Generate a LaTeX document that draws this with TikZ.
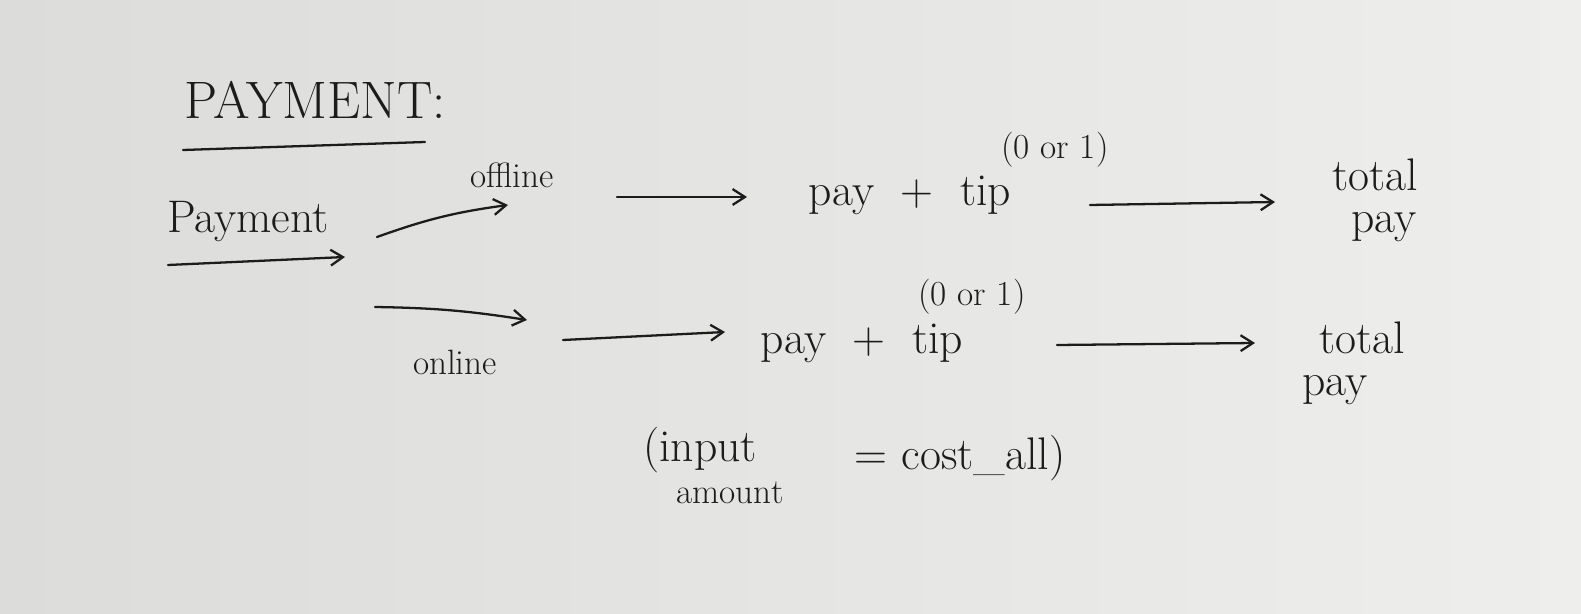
\documentclass[tikz,border=0pt]{standalone}
\usetikzlibrary{arrows.meta}
\definecolor{ink}{HTML}{1C1C1C}
\definecolor{paperL}{HTML}{DCDDDA}
\definecolor{paperR}{HTML}{EEEFED}
\begin{document}
\begin{tikzpicture}[x=0.02cm,y=-0.02cm,
  txt/.style={text=ink,inner sep=0pt,font=\fontsize{26}{28}\selectfont},
  small/.style={text=ink,inner sep=0pt,font=\fontsize{20}{22}\selectfont},
  big/.style={text=ink,inner sep=0pt,font=\fontsize{30}{32}\selectfont},
  arr/.style={draw=ink,line width=1.3pt,line cap=round,-{Straight Barb[length=7pt,width=9pt,line width=1.3pt]}},
  ln/.style={draw=ink,line width=1.3pt,line cap=round}]
\shade[left color=paperL,right color=paperR] (0,0) rectangle (1581,614);
\useasboundingbox (0,0) rectangle (1581,614);
% title
\node[big] (title) at (315,100) {PAYMENT:};
\coordinate (ulA) at (183,150);
\coordinate (ulB) at (425,142);
\draw[ln] (ulA) -- (ulB);
% payment
\node[txt] (pay) at (248,222) {Payment};
\coordinate (pa1) at (168,265);
\coordinate (pa2) at (345,257);
\draw[arr] (pa1) -- (pa2);
% offline branch
\coordinate (of1) at (377,237);
\coordinate (of2) at (508,205);
\draw[arr] (of1) to[bend left=6] (of2);
\node[small] (offline) at (512,175) {offline};
% online branch
\coordinate (on1) at (375,307);
\coordinate (on2) at (527,320);
\draw[arr] (on1) to[bend left=4] (on2);
\node[small] (online) at (455,362) {online};
% top row
\coordinate (t1) at (617,197);
\coordinate (t2) at (747,197);
\draw[arr] (t1) -- (t2);
\node[txt] (pt1) at (910,195) {pay \;+\; tip};
\node[small] (ot1) at (1055,150) {(0 or 1)};
\coordinate (t3) at (1090,205);
\coordinate (t4) at (1275,202);
\draw[arr] (t3) -- (t4);
\node[txt,align=center] (tot1) at (1375,200) {total\\[-4pt]\hspace*{0.4em}pay};
% bottom row
\coordinate (b1) at (563,340);
\coordinate (b2) at (725,332);
\draw[arr] (b1) -- (b2);
\node[txt] (pt2) at (862,343) {pay \;+\; tip};
\node[small] (ot2) at (972,297) {(0 or 1)};
\coordinate (b3) at (1057,345);
\coordinate (b4) at (1255,343);
\draw[arr] (b3) -- (b4);
\node[txt,align=center] (tot2) at (1335,363) {\hspace*{1.2em}total\\[-4pt]pay};
% note
\node[txt] (inp) at (700,450) {(input};
\node[small] (amt) at (730,493) {amount};
\node[txt] (cost) at (960,458) {= cost\_all)};
\end{tikzpicture}
\end{document}
